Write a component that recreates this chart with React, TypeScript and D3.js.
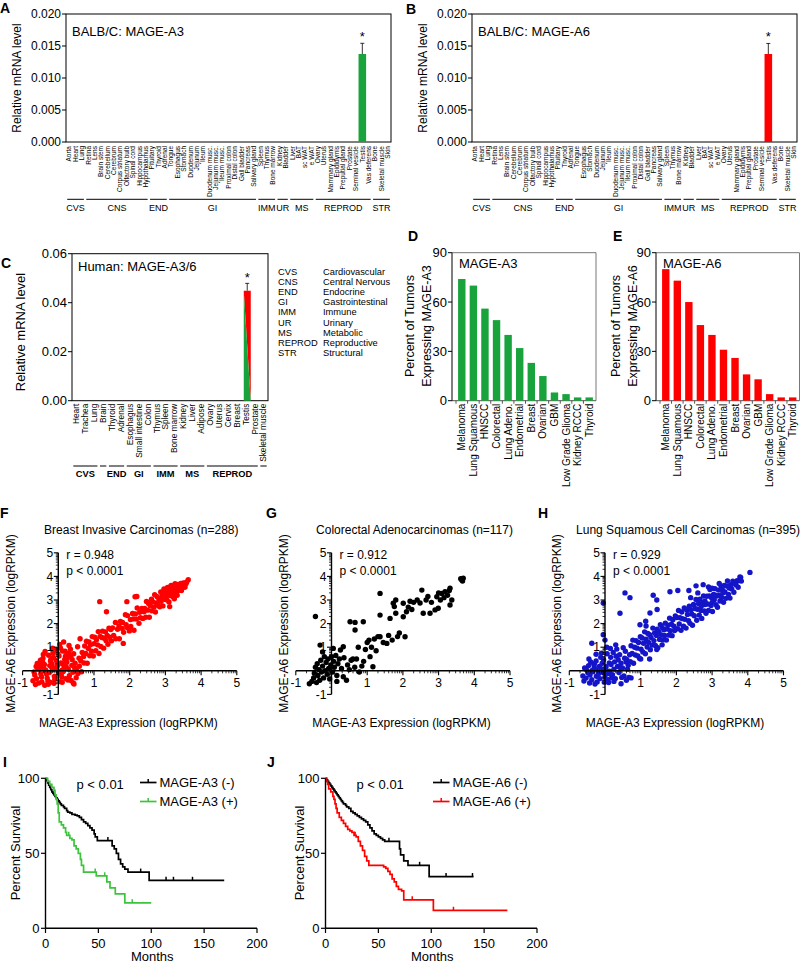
import React from "react";
import * as d3 from "d3";

const FONT = "'Liberation Sans', Arial, Helvetica, sans-serif";
const GREEN = "#19a33c";
const RED = "#ff0000";
const BLUE = "#1414c8";
const LIME = "#3cc43c";

// ---------- Panel A / B (mouse tissues) ----------
const mouseTissues = ["Aorta","Heart","Lung","Retina","Lens","Brain stem","Cerebellum","Cerebrum","Corpus striatum","Olfactory bulb","Spinal cord","Hippocampus","Hypothalamus","Pituitary","Thyroid","Adrenal","Tongue","Esophagus","Stomach","Duodenum","Jejunum","Ileum","Duodenum musc.","Jejunum musc.","Ileum musc.","Proximal colon","Distal colon","Gall bladder","Pancreas","Salivary gland","Spleen","Thymus","Bone marrow","Kidney","Bladder","Liver","BAT","sc WAT","e WAT","Ovary","Uterus","Mammary gland","Epididymis","Preputial gland","Prostate","Seminal vesicle","Testis","Vas deferens","Bone","Skeletal muscle","Skin"];
const mouseGroups = ["CVS","CNS","END","GI","IMM","UR","MS","REPROD","STR"];
const mouseGroupSizes = [3,10,3,14,3,2,4,9,3];
const mouseA3 = [0,0,0,0,0,0,0,0,0,0, 0,0,0,0,0,0,0,0,0,0, 0,0,0,0,0,0,0,0,0,0, 0,0,0,0,0,0,0,0,0,0, 0,0,0,0,0,0,0.01375,0,0,0,0];
const mouseA3Err = [0,0,0,0,0,0,0,0,0,0, 0,0,0,0,0,0,0,0,0,0, 0,0,0,0,0,0,0,0,0,0, 0,0,0,0,0,0,0,0,0,0, 0,0,0,0,0,0,0.00167,0,0,0,0];
const mouseA6 = [0,0,0,0,0,0,0,0,0,0, 0,0,0,0,0,0,0,0,0,0, 0,0,0,0,0,0,0,0,0,0, 0,0,0,0,0,0,0,0,0,0, 0,0,0,0,0,0,0.01375,0,0,0,0];
const mouseA6Err = [0,0,0,0,0,0,0,0,0,0, 0,0,0,0,0,0,0,0,0,0, 0,0,0,0,0,0,0,0,0,0, 0,0,0,0,0,0,0,0,0,0, 0,0,0,0,0,0,0.00165,0,0,0,0];
const mouseTicks = [0, 0.005, 0.01, 0.015, 0.02];

// ---------- Panel C (human tissues) ----------
const humanTissues = ["Heart","Trachea","Lung","Brain","Thyroid","Adrenal","Esophagus","Small intestine","Colon","Thymus","Spleen","Bone marrow","Kidney","Liver","Adipose","Ovary","Uterus","Cervix","Breast","Testis","Prostate","Skeletal muscle"];
const humanGroups = ["CVS","","END","GI","IMM","MS","REPROD",""];
const humanGroupSizes = [3,1,2,3,3,3,6,1];
const humanA36 = [0,0,0,0,0,0,0,0,0,0,0,0,0,0,0,0,0,0,0,0.0449,0,0];
const humanA36Err = [0,0,0,0,0,0,0,0,0,0,0,0,0,0,0,0,0,0,0,0.003,0,0];
const humanTicks = [0, 0.02, 0.04, 0.06];
const legendAbbr = ["CVS","CNS","END","GI","IMM","UR","MS","REPROD","STR"];
const legendNames = ["Cardiovascular","Central Nervous","Endocrine","Gastrointestinal","Immune","Urinary","Metabolic","Reproductive","Structural"];

// ---------- Panels D / E ----------
const tumorTypes = ["Melanoma","Lung Squamous","HNSCC","Colorectal","Lung Adeno.","Endometrial","Breast","Ovarian","GBM","Low Grade Glioma","Kidney RCCC","Thyroid"];
const tumorA3 = [74,70,56,49,40,32,23,15,5,4,2,2];
const tumorA6 = [80,73,60,46,40,31,26,16,13,4,2,2];
const tumorTicks = [0,30,60,90];

// ---------- Panels F / G / H (scatter, [MAGE-A3, MAGE-A6] logRPKM) ----------
const breastPts = [
[-0.71,-0.42],[-0.66,-0.18],[-0.64,-0.58],[-0.57,0.07],[-0.61,-0.33],[-0.53,0.24],[-0.49,-0.12],[-0.55,-0.52],[-0.44,0.38],[-0.47,-0.26],[-0.41,0.12],[-0.38,-0.61],[-0.43,0.52],[-0.33,-0.14],[-0.39,0.27],[-0.29,-0.44],[-0.35,0.03],[-0.27,0.66],[-0.31,-0.31],[-0.22,0.41],[-0.25,-0.07],[-0.19,0.16],[-0.23,-0.48],[-0.15,0.77],[-0.18,0.29],[-0.11,-0.24],[-0.14,0.57],[-0.07,0.13],[-0.1,-0.37],[-0.04,0.88],[-0.06,0.44],[0.01,-0.09],[-0.02,0.21],[0.05,-0.46],[0.02,0.63],[0.09,0.02],[0.06,0.97],[0.13,0.28],[0.1,-0.27],[0.15,1.22],[0.18,0.48],[0.14,-0.03],[0.22,0.17],[0.19,0.83],[0.27,-0.39],[0.24,0.36],[0.3,1.07],[0.28,0.07],[0.35,0.58],[0.31,-0.21],[0.38,0.23],[0.34,0.91],[0.42,-0.52],[0.39,0.47],[0.46,0.12],[0.43,0.72],[0.5,-0.29],[0.47,0.32],[0.54,1.02],[0.51,0.04],[0.58,0.53],[0.55,-0.11],[0.61,1.36],[0.63,0.42],[0.59,0.19],[0.67,0.78],[0.65,-0.04],[0.71,0.61],
[-0.52,0.13],[-0.36,-0.02],[-0.24,0.22],[-0.16,0.04],[-0.03,0.27],[0.07,0.33],[0.16,0.11],[0.26,0.56],[-0.46,-0.47],[-0.28,-0.57],[-0.12,-0.53],[0.11,-0.49],[0.21,-0.33],[0.36,-0.41],[0.44,-0.56],[-0.21,0.47],[-0.01,0.71],[0.12,0.84],[0.29,0.74],[-0.59,0.31],[-0.42,0.69],[-0.16,0.96],[0.04,1.12],[0.41,-0.06],[-0.68,-0.05],[-0.62,0.18],[-0.5,0.45],[-0.37,0.82],[0.2,0.62],[0.08,-0.15],
[0.72,0.33],[0.74,1.05],[0.77,0.73],[0.79,1.25],[0.81,0.32],[0.84,0.95],[0.86,1.22],[0.88,0.64],[0.9,1.1],[0.93,0.83],[0.95,1.45],[0.98,0.63],[1.0,1.15],[1.02,1.42],[1.05,0.85],[1.07,1.32],[1.1,1.1],[1.12,1.66],[1.14,0.73],[1.17,1.46],[1.19,1.03],[1.22,1.41],[1.24,1.68],[1.27,0.96],[1.29,1.38],[1.32,1.65],[1.34,1.27],[1.37,1.5],[1.39,1.12],[1.42,1.8],[1.44,1.42],[1.47,1.75],[1.49,1.27],
[1.52,1.82],[1.55,1.5],[1.6,2.05],[1.61,1.36],[1.66,1.76],[1.7,1.9],[1.71,1.36],[1.74,2.09],[1.79,1.79],[1.8,2.05],[1.83,1.63],[1.88,2.38],[1.9,1.95],[1.93,1.83],[1.94,2.34],[1.99,1.69],[2.02,2.17],[2.03,1.88],[2.08,2.43],[2.1,2.2],[2.12,1.72],[2.16,2.41],[2.19,2.19],[2.21,2.66],[2.26,2.01],[2.28,2.48],[2.3,2.25],[2.34,2.64],[2.37,2.22],[2.4,2.5],
[1.16,2.93],[1.35,2.5],[1.92,2.93],[2.15,3.14],[2.2,3.15],[1.82,1.16],
[2.42,2.64],[2.45,2.27],[2.47,2.94],[2.5,2.57],[2.53,2.85],[2.55,2.27],[2.58,2.75],[2.61,3.03],[2.62,2.54],[2.65,2.92],[2.68,2.7],[2.7,3.22],[2.72,2.49],[2.75,2.87],[2.77,3.14],[2.8,2.77],[2.82,3.04],[2.84,2.71],[2.87,3.34],[2.88,2.95],[2.91,3.23],[2.93,2.75],[2.95,3.12],[2.98,3.4],[3.0,3.02],
[3.02,3.34],[3.04,3.01],[3.06,3.53],[3.09,3.21],[3.1,2.92],[3.13,3.4],[3.15,3.57],[3.16,3.18],[3.19,3.36],[3.21,3.58],[3.22,3.14],[3.25,3.47],[3.27,3.69],[3.28,3.35],[3.31,3.58],[3.33,3.2],[3.34,3.66],[3.37,3.49],[3.39,3.61],[3.4,3.42],[3.43,3.7],[3.45,3.57],[3.47,3.64],[3.5,3.72],[3.52,3.54],[3.55,3.72],[3.58,3.7],[3.6,3.77],[3.64,3.86],
[3.12,2.72],[2.96,3.47],[3.16,3.62],[3.3,3.3],[3.25,3.05],[3.45,3.4],[3.05,3.2],[2.9,3.1],[3.35,3.4],[3.55,3.55]
];
const colorectalPts = [
[-0.62,-0.55],[-0.55,-0.45],[-0.5,-0.3],[-0.48,-0.1],[-0.45,0.15],[-0.42,-0.5],[-0.4,0.3],[-0.38,-0.2],[-0.35,0.05],[-0.33,-0.4],[-0.3,0.45],[-0.28,-0.05],[-0.25,0.2],[-0.22,-0.3],[-0.2,0.6],[-0.18,0.0],[-0.15,0.35],[-0.12,-0.15],[-0.1,0.5],[-0.08,0.1],[-0.05,-0.35],[-0.02,0.25],[0.0,0.6],[0.03,-0.05],[0.06,0.4],[0.08,0.15],[0.12,0.65],[0.15,-0.2],[0.18,0.3],[0.22,0.5],[0.25,0.88],[0.28,0.1],[0.33,-0.25],[0.35,0.55],[0.42,-0.4],[0.45,0.25],[0.5,0.05],[0.55,0.45],[0.6,0.5],[0.65,0.15],[0.7,0.5],[0.78,-0.05],[0.85,0.2],[0.9,0.4],[-0.45,2.3],[-0.32,1.09],[0.33,1.02],[0.05,0.95],[-0.25,0.8],[0.15,-0.45],
[0.52,2.08],[0.66,2.05],[0.89,2.08],[0.66,1.73],[1.0,1.2],[1.05,1.3],[1.08,0.6],[1.16,0.17],[1.2,1.35],[1.3,1.45],[1.36,3.28],[1.36,2.36],[1.36,1.44],[1.45,1.2],[1.55,1.16],[1.6,1.5],[1.64,2.22],[1.7,1.3],[1.73,2.86],[1.76,2.72],[1.8,3.0],[1.8,2.44],[1.85,1.45],[1.9,1.6],[0.95,0.9],[1.25,0.85],[0.75,1.0],[1.12,1.0],
[2.01,2.29],[2.01,2.86],[2.06,1.44],[2.1,2.5],[2.2,2.95],[2.25,2.6],[2.3,2.9],[2.4,3.0],[2.48,2.87],[2.53,3.42],[2.57,2.44],[2.65,3.0],[2.76,2.44],[2.8,2.9],[2.9,2.58],[2.95,3.14],[2.99,2.65],[3.05,3.0],[3.09,3.28],[3.15,3.1],[3.18,3.35],[3.25,3.2],[3.32,3.5],[3.37,3.0],[3.32,2.79],[3.3,3.4],[3.62,3.9],[3.65,3.85],[3.69,3.92],[3.67,3.8],[2.15,2.7],[2.7,3.15],[3.0,3.3]
];
const lungSqPts = [
[-0.62,-0.22],[-0.57,0.12],[-0.59,-0.43],[-0.51,0.03],[-0.53,-0.31],[-0.46,0.22],[-0.48,-0.08],[-0.43,-0.52],[-0.4,0.37],[-0.42,-0.18],[-0.36,0.02],[-0.37,-0.38],[-0.31,0.27],[-0.34,-0.04],[-0.28,-0.56],[-0.3,0.13],[-0.24,-0.23],[-0.25,0.42],[-0.2,0.02],[-0.22,-0.47],[-0.16,0.18],[-0.18,-0.13],[-0.12,0.57],[-0.14,-0.33],[-0.09,0.08],[-0.06,-0.07],[-0.08,0.32],[-0.02,-0.48],[-0.04,0.47],[0.02,0.03],[0.0,-0.27],[0.06,0.72],[0.03,0.17],[0.09,-0.38],[0.12,0.33],[0.1,-0.12],[0.16,0.57],[0.13,-0.02],[0.19,-0.28],[0.17,0.27],[0.23,0.78],[0.21,-0.17],[0.27,0.38],[0.25,0.07],[0.31,0.62],[0.29,-0.33],[0.35,0.18],[0.33,0.92],[0.39,-0.07],[0.37,0.47],[0.43,0.13],[0.41,0.68],[0.47,-0.28],[0.45,0.32],[0.51,0.98],[0.49,0.12],[0.55,0.53],[0.53,-0.22],[0.59,0.37],[0.57,0.83],[0.63,0.07],[0.61,0.48],[0.67,-0.28],[0.65,0.23],[0.69,0.68],
[-0.05,1.53],[-0.37,1.17],[0.0,1.3],[0.05,1.0],[-0.05,2.87],[0.42,2.44],[0.56,3.3],[0.7,3.1],[-0.25,0.7],[-0.45,0.5],[0.15,0.95],[-0.3,0.3],[-0.1,0.75],[0.3,1.1],[0.1,-0.5],[0.25,-0.45],[0.45,-0.55],[0.73,-0.3],[0.6,-0.4],
[0.71,0.39],[0.73,1.06],[0.76,0.73],[0.78,1.3],[0.8,0.32],[0.83,1.0],[0.85,0.67],[0.87,1.28],[0.9,0.96],[0.92,0.63],[0.94,1.2],[0.97,0.52],[0.99,1.44],[1.01,0.91],[1.04,1.39],[1.06,0.8],[1.08,1.17],[1.11,1.65],[1.13,0.72],[1.15,1.34],[1.18,1.01],[1.2,1.58],[1.22,1.2],[1.25,1.53],[1.27,0.89],[1.29,1.41],[1.32,1.09],[1.34,1.81],[1.37,1.28],[1.39,1.6],[1.41,1.07],[1.44,1.5],[1.46,1.76],[1.48,0.98],[1.51,1.66],[1.53,1.33],[1.55,1.95],[1.58,1.52],[1.6,1.84],[1.62,1.31],[1.65,1.74],[1.67,1.5],[1.69,2.02],[1.72,1.3],[1.74,1.77],[1.76,1.93],[1.79,1.51],[1.81,2.23],[1.83,1.7],[1.86,1.97],[1.88,1.49],[1.9,2.16],[1.93,1.89],[1.95,1.71],[1.97,2.32],
[1.35,3.2],[1.45,3.0],[1.26,2.45],[1.46,2.6],[1.82,3.35],[2.04,3.4],[0.98,1.95],[1.14,2.1],[1.15,1.9],[1.25,0.5],[1.45,0.9],[1.0,0.5],[1.6,1.1],
[2.01,2.26],[2.03,1.78],[2.06,2.56],[2.08,1.98],[2.1,2.25],[2.13,1.72],[2.15,2.49],[2.17,2.21],[2.2,1.89],[2.22,2.66],[2.24,2.18],[2.27,1.81],[2.29,2.58],[2.31,2.39],[2.34,2.12],[2.36,2.74],[2.38,2.01],[2.41,2.59],[2.43,2.41],[2.45,1.93],[2.48,2.81],[2.5,2.33],[2.52,2.64],[2.55,3.02],[2.57,2.14],[2.59,2.61],[2.62,2.84],[2.64,2.36],[2.66,3.03],[2.69,2.56],[2.71,2.22],[2.73,2.89],[2.76,3.17],[2.78,2.54],[2.8,2.81],[2.83,2.44],[2.85,3.16],[2.87,2.83],[2.9,2.56],[2.92,3.17],[2.94,3.44],[2.97,2.77],[2.99,3.09],[3.01,2.51],[3.04,3.24],[3.06,3.01],[3.08,3.48],[3.11,2.8],[3.13,3.17],[3.15,2.69],[3.18,3.42],[3.2,3.19],[3.22,2.96],[3.25,3.59],[3.27,3.11],[3.29,3.43],[3.32,2.9],[3.34,3.62],[3.36,3.34],[3.39,3.07],[3.41,3.59],[3.43,3.81],[3.46,3.24],[3.48,3.51],[3.5,3.08],[3.53,3.65],[3.55,3.47],[3.58,3.8],[3.61,3.33],[3.64,3.71],[3.67,3.64],[3.7,3.82],[3.73,3.54],[3.76,3.82],[3.8,3.96],
[3.78,3.98],[3.82,3.8],[4.06,4.17],[3.0,3.5],[3.2,3.7],[2.9,3.55],[2.6,3.3],[2.4,3.1],[2.35,3.4],[2.55,3.6],[2.75,3.65],[3.1,3.2],[3.3,3.3],[3.45,3.6],[2.8,2.95],[3.0,2.9],[2.7,2.75]
];
const scatterTicks = [-1,1,2,3,4,5];

// ---------- Panels I / J (Kaplan-Meier: [months, % survival]) ----------
const a3NegKM = [[0,100],[1,98.5],[2,97],[3,95.5],[4,94],[5,92.5],[6,91],[7,90],[8,89],[9,88],[10,87],[11,86],[12,85],[13,84],[14,83],[15,82],[17,81],[18,80],[20,78.5],[21,77.5],[23,77],[25,76],[28,75.5],[30,75],[32,74],[34,72.5],[36,71],[38,70],[40,68.5],[42,67],[44,65.5],[46,63],[47,61],[49,58.5],[63,55],[65,53],[67,50],[69,46],[71,43],[73,41],[75,39.5],[78,37.5],[98,32],[169,32]];
const a3NegCens = [59, 90, 114, 121, 139];
const a3PosKM = [[0,100],[2,98],[4,96],[6,94],[8,92],[9,89],[10,86],[11,83],[12,77],[13,71],[15,69],[17,67],[19,64],[20,62],[23,60],[25,59],[27,55],[29,53],[31,50],[33,46],[34,42],[36,37.5],[48,35],[58,31],[61,27],[66,23],[75,17],[100,17]];
const a3PosCens = [22, 47, 56, 82];
const a6NegKM = [[0,100],[1,99],[2,98],[3,97],[4,96],[5,95],[6,94],[7,93],[8,92],[9,91],[10,90],[11,89],[12,88],[13,87],[14,86],[15,85],[16,84],[17,83],[19,82],[20,81],[22,80],[24,78],[26,77],[28,76],[30,75],[32,74],[34,73],[36,72],[38,71],[40,69],[42,67],[44,65],[46,63],[48,62],[50,61],[52,60],[54,59],[56,58],[68,58],[70,53],[71,49],[74,45],[78,42],[98,34.5],[140,34.5]];
const a6NegCens = [60, 89, 114, 139];
const a6PosKM = [[0,100],[1,98],[2,96],[3,93],[5,91],[7,88],[8,86],[9,83],[10,80],[11,77],[13,74],[15,72],[17,70],[19,68],[21,66],[23,65],[25,64],[27,62],[29,61],[31,58],[33,55],[35,52],[37,48],[39,45],[41,42],[55,41],[57,40],[59,38],[61,36],[63,33],[65,31],[67,28],[69,26],[72,25],[74,19],[102,12],[172,12]];
const a6PosCens = [28, 82, 121];
const kmXTicks = [0,50,100,150,200];
const kmYTicks = [0,50,100];

// ================= components =================
function Rot({ x, y, children, size, anchor = "end", weight = "normal" }: any) {
  return (
    <text transform={`translate(${x},${y}) rotate(-90)`} textAnchor={anchor} dy="0.35em" fontSize={size} fontWeight={weight}>{children}</text>
  );
}

function groupSpans(sizes: number[]) {
  const out: { s: number; e: number }[] = [];
  let s = 0;
  sizes.forEach((n) => { out.push({ s, e: s + n }); s += n; });
  return out;
}

function MouseBars({ left, right, color, title, values, errs }: any) {
  const top = 14, bottom = 142;
  const x = d3.scaleBand<string>().domain(mouseTissues).range([left, right]);
  const y = d3.scaleLinear().domain([0, 0.02]).range([bottom, top]);
  const bw = x.bandwidth();
  const spans = groupSpans(mouseGroupSizes);
  return (
    <g>
      <rect x={left} y={top} width={right - left} height={bottom - top} fill="none" stroke="#000" strokeWidth={1} />
      <text x={left + 6} y={36} fontSize={13}>{title}</text>
      {mouseTicks.map((t) => (
        <g key={t}>
          <line x1={left - 4} x2={left} y1={y(t)} y2={y(t)} stroke="#000" />
          <text x={left - 5} y={y(t)} dy="0.35em" textAnchor="end" fontSize={12}>{d3.format(".3f")(t)}</text>
        </g>
      ))}
      <Rot x={left - 49} y={(top + bottom) / 2} size={12} anchor="middle">Relative mRNA level</Rot>
      {values.map((v: number, i: number) => {
        if (!v) return null;
        const cx = (x(mouseTissues[i]) as number) + bw / 2;
        const ye = y(v + errs[i]);
        return (
          <g key={i}>
            <rect x={cx - 3.8} y={y(v)} width={7.6} height={bottom - y(v)} fill={color} />
            <line x1={cx} x2={cx} y1={y(v)} y2={ye} stroke="#000" strokeWidth={0.8} />
            <line x1={cx - 2} x2={cx + 2} y1={ye} y2={ye} stroke="#000" strokeWidth={0.8} />
            <text x={cx} y={ye - 2} textAnchor="middle" fontSize={13}>*</text>
          </g>
        );
      })}
      {mouseTissues.map((t) => (
        <Rot key={t} x={(x(t) as number) + bw / 2} y={bottom + 4} size={6.5}>{t}</Rot>
      ))}
      {spans.map((sp, i) => {
        const x1 = left + sp.s * bw + 1.2, x2 = left + sp.e * bw - 1.2;
        return (
          <g key={i}>
            <line x1={x1} x2={x2} y1={199.3} y2={199.3} stroke="#000" strokeWidth={1} />
            <text x={(x1 + x2) / 2} y={210.5} textAnchor="middle" fontSize={9}>{mouseGroups[i]}</text>
          </g>
        );
      })}
    </g>
  );
}

function HumanBars() {
  const left = 72, right = 268, top = 253.7, bottom = 400.7;
  const x = d3.scaleBand<string>().domain(humanTissues).range([left, right]);
  const y = d3.scaleLinear().domain([0, 0.06]).range([bottom, top]);
  const bw = x.bandwidth();
  const spans = groupSpans(humanGroupSizes);
  return (
    <g>
      <rect x={left} y={top} width={right - left} height={bottom - top} fill="none" stroke="#000" strokeWidth={1} />
      <text x={78} y={271} fontSize={13}>Human: MAGE-A3/6</text>
      {humanTicks.map((t) => (
        <g key={t}>
          <line x1={left - 4} x2={left} y1={y(t)} y2={y(t)} stroke="#000" />
          <text x={left - 5} y={y(t)} dy="0.35em" textAnchor="end" fontSize={13}>{d3.format(".2f")(t)}</text>
        </g>
      ))}
      <Rot x={20} y={332} size={13} anchor="middle">Relative mRNA level</Rot>
      {humanA36.map((v, i) => {
        if (!v) return null;
        const cx = (x(humanTissues[i]) as number) + bw / 2 + 1.5;
        const x0 = cx - 3.5, x1 = cx + 3.5, yt = y(v);
        const ye = y(v + humanA36Err[i]);
        return (
          <g key={i}>
            <polygon points={`${x0},${yt} ${x1},${yt} ${x1},${bottom}`} fill={RED} />
            <polygon points={`${x0},${yt} ${x0},${bottom} ${x1},${bottom}`} fill={GREEN} />
            <line x1={cx} x2={cx} y1={yt} y2={ye} stroke="#000" strokeWidth={0.8} />
            <line x1={cx - 2} x2={cx + 2} y1={ye} y2={ye} stroke="#000" strokeWidth={0.8} />
            <text x={cx} y={ye - 1.5} textAnchor="middle" fontSize={13}>*</text>
          </g>
        );
      })}
      {humanTissues.map((t) => (
        <Rot key={t} x={(x(t) as number) + bw / 2} y={bottom + 3} size={8.3}>{t}</Rot>
      ))}
      {spans.map((sp, i) => {
        const x1 = left + sp.s * bw + 1.3, x2 = left + sp.e * bw - 1.3;
        return (
          <g key={i}>
            <line x1={x1} x2={x2} y1={466} y2={466} stroke="#000" strokeWidth={1} />
            <text x={(x1 + x2) / 2} y={477} textAnchor="middle" fontSize={9.3} fontWeight="bold">{humanGroups[i]}</text>
          </g>
        );
      })}
      {legendAbbr.map((a, i) => (
        <g key={a} fontSize={9.3}>
          <text x={278} y={275 + i * 10.1}>{a}</text>
          <text x={323} y={275 + i * 10.1}>{legendNames[i]}</text>
        </g>
      ))}
    </g>
  );
}

function TumorBars({ left, right, color, title, values, gene, t1x, t2x }: any) {
  const top = 252.7, bottom = 400.7;
  const x = d3.scaleBand<string>().domain(tumorTypes).range([left + 4, right - 1]).paddingInner(0.36).paddingOuter(0.18);
  const y = d3.scaleLinear().domain([0, 90]).range([bottom, top]);
  const bw = x.bandwidth();
  const step = x.step();
  return (
    <g>
      <line x1={left} x2={right} y1={top} y2={top} stroke="#777" strokeWidth={1} />
      <line x1={right} x2={right} y1={top} y2={bottom} stroke="#777" strokeWidth={1} />
      <line x1={left} x2={right} y1={bottom} y2={bottom} stroke="#555" strokeWidth={1} />
      <line x1={left} x2={left} y1={top} y2={bottom} stroke="#000" strokeWidth={1} />
      <text x={left + 7} y={267.5} fontSize={13}>{title}</text>
      {tumorTicks.map((t) => (
        <g key={t}>
          <line x1={left - 4} x2={left} y1={y(t)} y2={y(t)} stroke="#000" />
          <text x={left - 5} y={y(t)} dy="0.35em" textAnchor="end" fontSize={13}>{t}</text>
        </g>
      ))}
      {tumorTypes.map((c) => (
        <line key={"tk" + c} x1={(x(c) as number) + bw / 2 - step / 2} x2={(x(c) as number) + bw / 2 - step / 2} y1={bottom} y2={bottom + 3} stroke="#555" />
      ))}
      {values.map((v: number, i: number) => (
        <rect key={i} x={x(tumorTypes[i])} y={y(v)} width={bw} height={bottom - y(v)} fill={color} />
      ))}
      {tumorTypes.map((c) => (
        <Rot key={c} x={(x(c) as number) + bw / 2} y={bottom + 3} size={10}>{c}</Rot>
      ))}
      <Rot x={t1x} y={326} size={12.5} anchor="middle">Percent of Tumors</Rot>
      <Rot x={t2x} y={326} size={12.5} anchor="middle">{"Expressing " + gene}</Rot>
    </g>
  );
}

function Scatter({ ox, color, title, r, points }: any) {
  const oy = 670.8;
  const xs = d3.scaleLinear().domain([-1, 5]).range([ox - 35.7, ox + 5 * 35.7]);
  const ys = d3.scaleLinear().domain([-1, 5]).range([oy + 23.6, oy - 5 * 23.6]);
  const minor: number[] = [];
  for (let n = -1; n < 5; n++) for (let k = 2; k <= 9; k++) minor.push(n + Math.log10(k));
  const majors = d3.range(-1, 6);
  return (
    <g>
      <text x={ox + 83} y={534} textAnchor="middle" fontSize={12}>{title}</text>
      <text x={ox + 8} y={559} fontSize={12}>{"r = " + r}</text>
      <text x={ox + 8} y={575} fontSize={12}>p &lt; 0.0001</text>
      {points.map((p: number[], i: number) => (
        <circle key={i} cx={xs(p[0])} cy={ys(p[1])} r={2.7} fill={color} />
      ))}
      <line x1={xs(-1)} x2={xs(5)} y1={oy} y2={oy} stroke="#000" strokeWidth={1.4} />
      <line x1={ox} x2={ox} y1={ys(-1)} y2={ys(5)} stroke="#000" strokeWidth={1.4} />
      {majors.map((m) => (
        <g key={"M" + m}>
          <line x1={xs(m)} x2={xs(m)} y1={oy} y2={oy + 4.5} stroke="#000" strokeWidth={1.1} />
          <line x1={ox - 4.5} x2={ox} y1={ys(m)} y2={ys(m)} stroke="#000" strokeWidth={1.1} />
        </g>
      ))}
      {minor.map((m, i) => (
        <g key={"m" + i}>
          <line x1={xs(m)} x2={xs(m)} y1={oy} y2={oy + 2.5} stroke="#000" strokeWidth={0.8} />
          <line x1={ox - 2.5} x2={ox} y1={ys(m)} y2={ys(m)} stroke="#000" strokeWidth={0.8} />
        </g>
      ))}
      {scatterTicks.map((t) => (
        <g key={"l" + t}>
          <text x={xs(t)} y={oy + 16.5} textAnchor="middle" fontSize={12}>{t}</text>
          <text x={ox - 5} y={ys(t)} dy="0.35em" textAnchor="end" fontSize={12}>{t}</text>
        </g>
      ))}
      <text x={ox + 70} y={727} textAnchor="middle" fontSize={12}>MAGE-A3 Expression (logRPKM)</text>
      <Rot x={ox - 48} y={623.5} size={12} anchor="middle">MAGE-A6 Expression (logRPKM)</Rot>
    </g>
  );
}

function survAt(curve: number[][], t: number) {
  let s = curve[0][1];
  for (const p of curve) if (p[0] <= t) s = p[1];
  return s;
}

function Survival({ x0, curves, gene, legX, titleX }: any) {
  const xs = d3.scaleLinear().domain([0, 200]).range([x0, x0 + 211.5]);
  const ys = d3.scaleLinear().domain([0, 100]).range([928.3, 778.3]);
  const line = d3.line<number[]>().curve(d3.curveStepAfter).x((d) => xs(d[0])).y((d) => ys(d[1]));
  return (
    <g>
      {curves.map((c: any, i: number) => (
        <g key={i}>
          <path d={line(c.data) as string} fill="none" stroke={c.color} strokeWidth={1.7} />
          {c.cens.map((t: number, j: number) => (
            <line key={j} x1={xs(t)} x2={xs(t)} y1={ys(survAt(c.data, t))} y2={ys(survAt(c.data, t)) - 3.5} stroke={c.color} strokeWidth={1.5} />
          ))}
        </g>
      ))}
      <line x1={x0} x2={xs(200)} y1={928.3} y2={928.3} stroke="#000" strokeWidth={1.4} />
      <line x1={x0} x2={x0} y1={928.3} y2={778.3} stroke="#000" strokeWidth={1.4} />
      {kmXTicks.map((t) => (
        <g key={"x" + t}>
          <line x1={xs(t)} x2={xs(t)} y1={928.3} y2={933} stroke="#000" strokeWidth={1.2} />
          <text x={xs(t)} y={947.5} textAnchor="middle" fontSize={13}>{t}</text>
        </g>
      ))}
      {kmYTicks.map((t) => (
        <g key={"y" + t}>
          <line x1={x0 - 4.5} x2={x0} y1={ys(t)} y2={ys(t)} stroke="#000" strokeWidth={1.2} />
          <text x={x0 - 6} y={ys(t)} dy="0.35em" textAnchor="end" fontSize={13}>{t}</text>
        </g>
      ))}
      <text x={xs(100) + 1} y={961} textAnchor="middle" fontSize={13}>Months</text>
      <Rot x={titleX} y={853} size={13} anchor="middle">Percent Survival</Rot>
      <text x={x0 + 31} y={788.5} fontSize={13}>p &lt; 0.01</text>
      {curves.map((c: any, i: number) => {
        const yy = 782.5 + i * 19;
        return (
          <g key={"lg" + i}>
            <line x1={legX} x2={legX + 16.5} y1={yy} y2={yy} stroke={c.color} strokeWidth={1.7} />
            <line x1={legX + 8.2} x2={legX + 8.2} y1={yy} y2={yy - 3.5} stroke={c.color} strokeWidth={1.5} />
            <text x={legX + 19.5} y={yy} dy="0.35em" fontSize={13}>{gene + (i === 0 ? " (-)" : " (+)")}</text>
          </g>
        );
      })}
    </g>
  );
}

const panelLetters = ["A","B","C","D","E","F","G","H","I","J"];
const letterX = [0, 406, 1, 408, 613, 0, 266, 538, 3, 267];
const letterY = [13, 14, 268, 241, 241, 518, 518, 518, 767, 767];

export default function App() {
  return (
    <svg width={800} height={965} style={{ position: "absolute", left: 0, top: 0, display: "block" }} fontFamily={FONT}>
      <rect width={800} height={965} fill="#fff" />
      <MouseBars left={66} right={391} color={GREEN} title="BALB/C: MAGE-A3" values={mouseA3} errs={mouseA3Err} />
      <MouseBars left={472} right={797} color={RED} title="BALB/C: MAGE-A6" values={mouseA6} errs={mouseA6Err} />
      <HumanBars />
      <TumorBars left={452} right={596} color={GREEN} title="MAGE-A3" values={tumorA3} gene="MAGE-A3" t1x={410} t2x={427} />
      <TumorBars left={656} right={799.5} color={RED} title="MAGE-A6" values={tumorA6} gene="MAGE-A6" t1x={616} t2x={633} />
      <Scatter ox={58.3} color={RED} title="Breast Invasive Carcinomas (n=288)" r="0.948" points={breastPts} />
      <Scatter ox={331.5} color="#000" title="Colorectal Adenocarcinomas (n=117)" r="0.912" points={colorectalPts} />
      <Scatter ox={605} color={BLUE} title="Lung Squamous Cell Carcinomas (n=395)" r="0.929" points={lungSqPts} />
      <Survival x0={45.5} gene="MAGE-A3" legX={140} titleX={15}
        curves={[{ data: a3NegKM, cens: a3NegCens, color: "#000" }, { data: a3PosKM, cens: a3PosCens, color: LIME }]} />
      <Survival x0={325.5} gene="MAGE-A6" legX={433} titleX={299}
        curves={[{ data: a6NegKM, cens: a6NegCens, color: "#000" }, { data: a6PosKM, cens: a6PosCens, color: RED }]} />
      {panelLetters.map((l, i) => (
        <text key={l} x={letterX[i]} y={letterY[i]} fontSize={14} fontWeight="bold">{l}</text>
      ))}
    </svg>
  );
}
